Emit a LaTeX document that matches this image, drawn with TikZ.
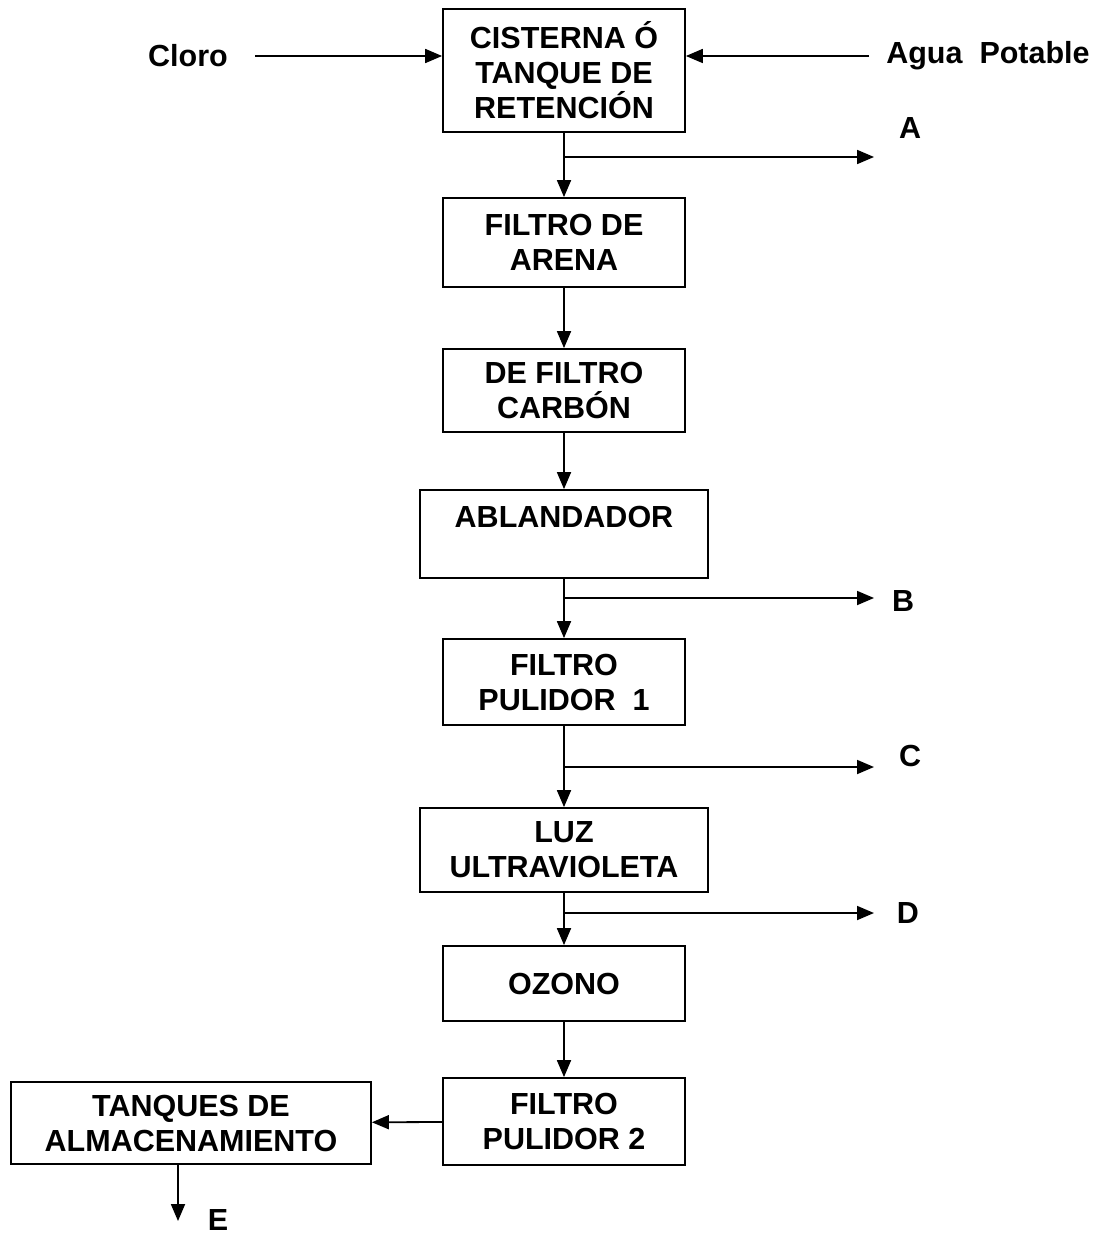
\documentclass[tikz,border=0pt]{standalone}
\usepackage{fontspec}
\setmainfont{Liberation Sans}
\usetikzlibrary{arrows.meta}
\tikzset{
  boxnode/.style={draw, line width=1.8pt, inner sep=0pt, align=center, font=\bfseries\fontsize{30.5}{35}\selectfont},
  lbl/.style={inner sep=0pt, font=\bfseries\fontsize{30.5}{35}\selectfont},
  arr/.style={line width=1.8pt, -{Triangle[length=17pt,width=14pt]}}
}
\begin{document}
\begin{tikzpicture}[x=1pt,y=-1pt]
\useasboundingbox (0,0) rectangle (1104,1236);
% boxes
\node[boxnode, minimum width=242pt, minimum height=123pt] (b1) at (564,70.5) {CISTERNA Ó\\TANQUE DE\\RETENCIÓN};
\node[boxnode, minimum width=242pt, minimum height=89pt] (b2) at (564,242.5) {FILTRO DE\\ARENA};
\node[boxnode, minimum width=242pt, minimum height=83pt] (b3) at (564,390.5) {DE FILTRO\\CARBÓN};
\node[boxnode, minimum width=288pt, minimum height=88pt] (b4) at (564,534) {ABLANDADOR\\\mbox{}};
\node[boxnode, minimum width=242pt, minimum height=86pt] (b5) at (564,682) {FILTRO\\PULIDOR~~1};
\node[boxnode, minimum width=288pt, minimum height=84pt] (b6) at (564,850) {LUZ\\ULTRAVIOLETA};
\node[boxnode, minimum width=242pt, minimum height=75pt] (b7) at (564,983.5) {OZONO};
\node[boxnode, minimum width=242pt, minimum height=87pt] (b8) at (564,1121.5) {FILTRO\\PULIDOR 2};
\node[boxnode, minimum width=360pt, minimum height=82pt] (b9) at (191,1123) {TANQUES DE\\ALMACENAMIENTO};
% inputs
\node[lbl, inner xsep=27pt] (cloro) at (188,56) {Cloro};
\node[lbl, inner xsep=17pt] (agua) at (988,56) {Agua~~Potable};
\draw[arr] (cloro.east) -- (cloro.east -| b1.west);
\draw[arr] (agua.west) -- (agua.west -| b1.east);
% main flow
\draw[arr] (b1) -- (b2);
\draw[arr] (b2) -- (b3);
\draw[arr] (b3) -- (b4);
\draw[arr] (b4) -- (b5);
\draw[arr] (b5) -- (b6);
\draw[arr] (b6) -- (b7);
\draw[arr] (b7) -- (b8);
\draw[arr] (b8) -- (b9);
% branches
\coordinate (jA) at (564,157);
\coordinate (eA) at (874,157);
\coordinate (jB) at (564,598);
\coordinate (eB) at (874,598);
\coordinate (jC) at (564,767);
\coordinate (eC) at (874,767);
\coordinate (jD) at (564,913);
\coordinate (eD) at (874,913);
\draw[arr] (jA) -- (eA);
\draw[arr] (jB) -- (eB);
\draw[arr] (jC) -- (eC);
\draw[arr] (jD) -- (eD);
\node[lbl] (A) at (910,128) {A};
\node[lbl] (B) at (903,601) {B};
\node[lbl] (C) at (910,756) {C};
\node[lbl] (D) at (908,913) {D};
% output E
\coordinate (eE) at (178,1221);
\draw[arr] (b9.south -| eE) -- (eE);
\node[lbl] (E) at (218,1220) {E};
\end{tikzpicture}
\end{document}
